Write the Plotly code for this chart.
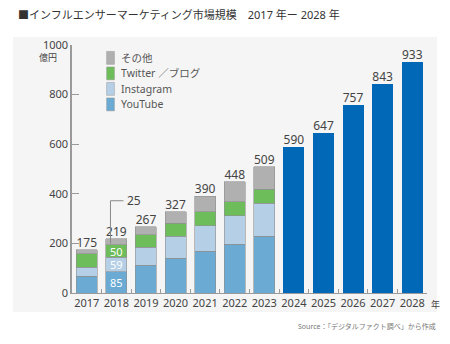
import plotly.graph_objects as go

years = ["2017", "2018", "2019", "2020", "2021", "2022", "2023", "2024", "2025", "2026", "2027", "2028"]
youtube = [68, 85, 112, 141, 168, 196, 228, None, None, None, None, None]
instagram = [35, 59, 73, 88, 104, 116, 133, None, None, None, None, None]
twitter = [56, 50, 50, 52, 56, 56, 58, None, None, None, None, None]
other = [16, 25, 32, 46, 62, 80, 90, None, None, None, None, None]
forecast = [None, None, None, None, None, None, None, 590, 647, 757, 843, 933]
totals = [175, 219, 267, 327, 390, 448, 509, 590, 647, 757, 843, 933]
inner_year = "2018"

FONT = "Noto Sans, Noto Sans CJK JP"
line_col = "#9a9a9a"

def inner_text(vals):
    return [str(v) if (y == inner_year and v is not None) else "" for y, v in zip(years, vals)]

fig = go.Figure()
series = [
    ("YouTube", youtube, "#6aaad3", True),
    ("Instagram", instagram, "#b5d0e6", True),
    ("Twitter ／ブログ", twitter, "#6dbd5a", True),
    ("その他", other, "#b0b0b0", False),
]
for name, vals, col, show_inner in series:
    fig.add_trace(go.Bar(
        x=years, y=vals, name=name, showlegend=False,
        marker=dict(color=col, line=dict(color="#8f8f8f", width=0.6)),
        text=inner_text(vals) if show_inner else None,
        textposition="inside", insidetextanchor="middle", textangle=0,
        constraintext="none",
        textfont=dict(color="white", size=11, family=FONT),
        hoverinfo="skip",
    ))
fig.add_trace(go.Bar(
    x=years, y=forecast, name="予測", showlegend=False,
    marker=dict(color="#0068b7", line=dict(width=0)),
))
fig.add_trace(go.Scatter(
    x=years, y=totals, mode="text", text=[str(t) for t in totals],
    textposition="top center", showlegend=False,
    textfont=dict(color="#444444", size=12, family=FONT),
    cliponaxis=False,
))

# manual legend (top-down order: その他, Twitter, Instagram, YouTube)
leg_items = list(reversed(series))
for i, (name, vals, col, _) in enumerate(leg_items):
    yc = 0.948 - i * 0.0625
    fig.add_shape(type="rect", xref="paper", yref="paper",
                  x0=0.0975, x1=0.1195, y0=yc - 0.026, y1=yc + 0.026,
                  fillcolor=col, line=dict(color="#999999", width=0.5))
    fig.add_annotation(xref="paper", yref="paper", x=0.133, y=yc, text=name, showarrow=False,
                       xanchor="left", yanchor="middle",
                       font=dict(size=10.5, color="#555555", family=FONT))

# leader for the "その他" 2018 value
idx = years.index(inner_year)
fig.add_shape(type="line", xref="x", yref="y", x0=idx - 0.2, x1=idx - 0.2, y0=200, y1=372,
              line=dict(color="#888888", width=1))
fig.add_shape(type="line", xref="x", yref="y", x0=idx - 0.2, x1=idx + 0.24, y0=372, y1=372,
              line=dict(color="#888888", width=1))
fig.add_annotation(x=idx + 0.3, y=372, xref="x", yref="y", text=str(other[idx]),
                   showarrow=False, xanchor="left", yanchor="middle",
                   font=dict(color="#444444", size=12, family=FONT))

# panel background
fig.add_shape(type="rect", xref="paper", yref="paper", x0=-0.166, x1=1.028, y0=-0.077, y1=1.032,
              fillcolor="#f5f5f5", line=dict(width=0), layer="below")

fig.add_annotation(xref="paper", yref="paper", x=-0.036, y=0.948, text="億円", showarrow=False,
                   xanchor="right", yanchor="middle", font=dict(size=9, color="#444444", family=FONT))
fig.add_annotation(xref="paper", yref="paper", x=1.005, y=-0.048, text="年", showarrow=False,
                   xanchor="left", yanchor="middle", font=dict(size=9, color="#444444", family=FONT))
fig.add_annotation(xref="paper", yref="paper", x=1.03, y=-0.137, text="Source：「デジタルファクト調べ」から作成",
                   showarrow=False, xanchor="right", yanchor="middle",
                   font=dict(size=7, color="#777777", family=FONT))

fig.update_layout(
    width=450, height=344,
    margin=dict(l=72, r=23, t=45, b=51),
    barmode="stack", bargap=0.29,
    paper_bgcolor="white", plot_bgcolor="rgba(0,0,0,0)",
    font=dict(family=FONT, color="#444444", size=11),
    title=dict(text="■インフルエンサーマーケティング市場規模　2017 年ー 2028 年",
               x=0.04, xanchor="left", y=0.955, yanchor="middle",
               font=dict(size=11, color="#333333", family=FONT)),
    showlegend=False,
    xaxis=dict(type="category", range=[-0.5, 11.5], showline=True, linecolor=line_col, linewidth=1,
               ticks="inside", tickson="boundaries", ticklen=4, tickcolor=line_col, tickangle=0,
               tickfont=dict(size=11, color="#444444"), showgrid=False, zeroline=False),
    yaxis=dict(range=[0, 1000], tickvals=[0, 200, 400, 600, 800, 1000], showline=True,
               linecolor=line_col, linewidth=1.5, ticks="inside", ticklen=7, tickcolor=line_col,
               showgrid=False, zeroline=False, tickfont=dict(size=11, color="#444444")),
)

fig.write_html("out.html")
